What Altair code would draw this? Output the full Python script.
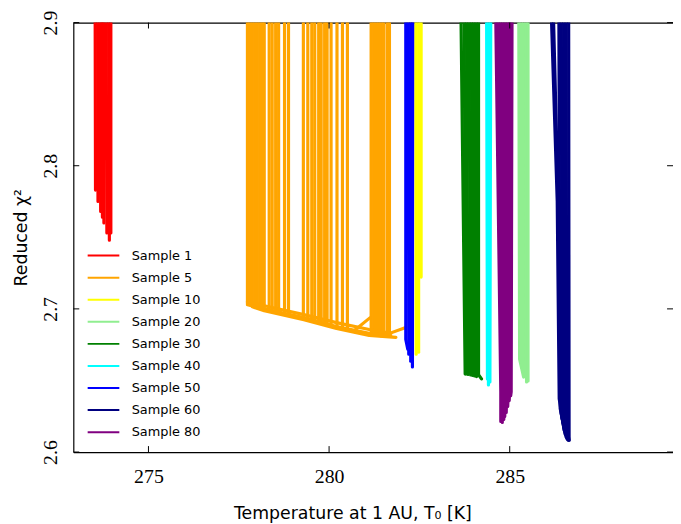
import altair as alt
import pandas as pd

# ---------------- data ----------------
SAMPLES = ["Sample 1", "Sample 5", "Sample 10", "Sample 20", "Sample 30",
           "Sample 40", "Sample 50", "Sample 60", "Sample 80"]
COLORS = ["#ff0000", "#ffa500", "#ffff00", "#90ee90", "#008000",
          "#00ffff", "#0000ff", "#000080", "#800080"]
X_TICKS = [275, 280, 285]
Y_TICKS = [2.6, 2.7, 2.8, 2.9]
X_RANGE = [272.92, 289.52]
Y_RANGE = [2.6, 2.9]
TOP = 2.95  # traces start above the visible range

# each trace: list of (T0 [K], reduced chi2) points
S1_TRACES = [
    [(273.521, TOP), (273.534, 2.783)],
    [(273.589, TOP), (273.603, 2.775)],
    [(273.658, TOP), (273.677, 2.768)],
    [(273.712, TOP), (273.725, 2.764)],
    [(273.753, TOP), (273.767, 2.760)],
    [(273.822, TOP), (273.849, 2.753)],
    [(273.890, TOP), (273.918, 2.748)],
    [(273.959, TOP), (273.959, 2.753)],
]
S5_VERTICAL = [
    (277.740, 2.7036), (277.808, 2.7029), (277.877, 2.7022), (277.945, 2.7018),
    (278.014, 2.7015), (278.082, 2.7011), (278.151, 2.7008), (278.205, 2.7004),
    (278.342, 2.6994), (278.425, 2.6987), (278.521, 2.6980), (278.603, 2.6977),
    (278.767, 2.6966), (278.877, 2.6960), (279.288, 2.6939), (279.411, 2.6929),
    (279.521, 2.6922), (279.603, 2.6915), (279.712, 2.6908), (279.781, 2.6904),
    (279.877, 2.6898), (279.945, 2.6891), (280.055, 2.6884), (280.219, 2.6877),
    (280.370, 2.6866), (280.507, 2.6856), (281.164, 2.6822), (281.233, 2.6818),
    (281.301, 2.6815), (281.370, 2.6815), (281.438, 2.6811), (281.507, 2.6808),
    (281.603, 2.6808), (281.671, 2.6808),
]
S5_TRACES = [[(t, TOP), (t, c)] for t, c in S5_VERTICAL] + [
    [(277.740, 2.7049), (278.205, 2.7022), (279.301, 2.6960), (280.205, 2.6904),
     (281.110, 2.6856), (281.712, 2.6829)],
    [(277.740, 2.7029), (278.205, 2.7001), (279.301, 2.6939), (280.205, 2.6877),
     (281.110, 2.6829), (281.712, 2.6808)],
    [(277.877, 2.7015), (278.205, 2.6987), (279.301, 2.6925), (280.205, 2.6863),
     (281.110, 2.6815), (281.849, 2.6801)],
    [(280.699, 2.6849), (281.137, 2.6939)],
    [(281.521, 2.6815), (282.123, 2.6870)],
]
S10_TRACES = [
    [(282.397, TOP), (282.411, 2.6683)],
    [(282.479, TOP), (282.479, 2.6697)],
    [(282.548, TOP), (282.548, 2.7222)],
]
S20_TRACES = [
    [(285.247, TOP), (285.274, 2.6649), (285.384, 2.6524)],
    [(285.315, TOP), (285.329, 2.6649), (285.411, 2.6531)],
    [(285.384, TOP), (285.384, 2.6566)],
    [(285.452, TOP), (285.466, 2.6490)],
    [(285.507, TOP), (285.507, 2.6497)],
]
S30_TRACES = [
    [(283.630, TOP), (283.767, 2.6545)],
    [(283.726, TOP), (283.795, 2.6545)],
    [(283.795, TOP), (283.849, 2.6542)],
    [(283.863, TOP), (283.918, 2.6538)],
    [(283.932, TOP), (283.973, 2.6535)],
    [(284.000, TOP), (284.027, 2.6531)],
    [(284.068, TOP), (284.082, 2.6527)],
    [(284.137, TOP), (284.137, 2.6540), (284.219, 2.6511)],
]
S40_TRACES = [
    [(284.356, TOP), (284.384, 2.6511)],
    [(284.425, TOP), (284.411, 2.6469)],
    [(284.479, TOP), (284.452, 2.6490)],
]
S50_TRACES = [
    [(282.123, TOP), (282.123, 2.6787), (282.178, 2.6718)],
    [(282.192, TOP), (282.205, 2.6683)],
    [(282.260, TOP), (282.260, 2.6635)],
    [(282.315, TOP), (282.307, 2.6594)],
]
S60_TRACES = [
    [(286.096, TOP), (286.315, 2.7754), (286.370, 2.6372), (286.507, 2.6152)],
    [(286.164, TOP), (286.342, 2.7754), (286.397, 2.6304), (286.534, 2.6124)],
    [(286.356, TOP), (286.384, 2.7063), (286.425, 2.6269), (286.562, 2.6103)],
    [(286.425, TOP), (286.452, 2.6235), (286.589, 2.6090)],
    [(286.493, TOP), (286.507, 2.6200), (286.616, 2.6083)],
    [(286.562, TOP), (286.575, 2.6166), (286.644, 2.6083)],
    [(286.630, TOP), (286.644, 2.6083)],
]
S80_TRACES = [
    [(284.589, TOP), (284.753, 2.6421), (284.753, 2.6214)],
    [(284.658, TOP), (284.795, 2.6421), (284.795, 2.6207)],
    [(284.726, TOP), (284.836, 2.6421), (284.836, 2.6228)],
    [(284.795, TOP), (284.877, 2.6421), (284.863, 2.6248)],
    [(284.863, TOP), (284.918, 2.6421), (284.904, 2.6276)],
    [(284.932, TOP), (284.959, 2.6421), (284.945, 2.6318)],
    [(285.000, TOP), (285.000, 2.6421), (284.986, 2.6359)],
    [(285.068, TOP), (285.041, 2.6421), (285.027, 2.6393)],
]
ALL_TRACES = [S1_TRACES, S5_TRACES, S10_TRACES, S20_TRACES, S30_TRACES,
              S40_TRACES, S50_TRACES, S60_TRACES, S80_TRACES]

rows = []
for name, traces in zip(SAMPLES, ALL_TRACES):
    for k, tr in enumerate(traces):
        for j, (t, c) in enumerate(tr):
            rows.append({"sample": name, "trace": f"{name}-{k}", "step": j,
                         "T": t, "chi": c})
df = pd.DataFrame(rows)
xt = pd.DataFrame({"v": X_TICKS})
yt = pd.DataFrame({"v": Y_TICKS})

# ---------------- chart ----------------
W, H = 606, 434
TL = 6
xs = alt.Scale(domain=X_RANGE, nice=False, zero=False)
ys = alt.Scale(domain=Y_RANGE, nice=False, zero=False)

lines = alt.Chart(df).mark_line(
    clip=True, strokeWidth=3.2, strokeJoin="round", strokeCap="round"
).encode(
    x=alt.X("T:Q", scale=xs, axis=alt.Axis(
        values=X_TICKS, format="d", ticks=False, grid=False,
        labelFont="Liberation Serif", labelFontSize=20, labelColor="black",
        labelPadding=15, domainColor="black", domainWidth=1.2,
        title="Temperature at 1 AU, T\u2080 [K]", titleFont="DejaVu Sans",
        titleFontSize=17.5, titleFontWeight="normal", titleColor="black",
        titlePadding=18, titleX=282, titleAlign="center")),
    y=alt.Y("chi:Q", scale=ys, axis=alt.Axis(
        values=Y_TICKS, format=".1f", ticks=False, grid=False,
        labelFont="Liberation Serif", labelFontSize=20, labelColor="black",
        labelAngle=270, labelAlign="center", labelBaseline="alphabetic",
        labelPadding=17, domainColor="black", domainWidth=1.2,
        title="Reduced \u03c7\u00b2", titleFont="DejaVu Sans",
        titleFontSize=17.5, titleFontWeight="normal", titleColor="black",
        titlePadding=10)),
    color=alt.Color("sample:N", scale=alt.Scale(domain=SAMPLES, range=COLORS),
                    legend=alt.Legend(
                        title=None, orient="none", legendX=24, legendY=229,
                        symbolType="M-3.2,0H3.2", symbolSize=100,
                        symbolStrokeWidth=2, labelFont="DejaVu Sans",
                        labelFontSize=13, labelColor="black", labelOffset=22,
                        rowPadding=8.3, padding=0)),
    detail="trace:N",
    order="step:Q",
)

bottom_ticks = alt.Chart(xt).mark_rule(color="black", strokeWidth=1).encode(
    x=alt.X("v:Q", scale=xs, axis=None), y=alt.value(H), y2=alt.value(H - TL))
top_ticks = alt.Chart(xt).mark_rule(color="black", strokeWidth=1).encode(
    x=alt.X("v:Q", scale=xs, axis=alt.Axis(
        orient="top", labels=False, ticks=False, title=None, grid=False,
        domainColor="black", domainWidth=1.2)),
    y=alt.value(0), y2=alt.value(TL))
left_ticks = alt.Chart(yt).mark_rule(color="black", strokeWidth=1).encode(
    y=alt.Y("v:Q", scale=ys, axis=None), x=alt.value(0), x2=alt.value(TL))
right_ticks = alt.Chart(yt).mark_rule(color="black", strokeWidth=1).encode(
    y=alt.Y("v:Q", scale=ys, axis=None), x=alt.value(W), x2=alt.value(W - TL))

chart = alt.layer(lines, bottom_ticks, top_ticks, left_ticks, right_ticks).resolve_axis(
    x="independent", y="independent"
).properties(
    width=W, height=H,
    autosize=alt.AutoSizeParams(type="none"),
    padding={"left": 66, "top": 12, "right": 0, "bottom": 70},
).configure_view(stroke=None)

chart.save("out.html", embed_options={"renderer": "svg", "actions": False})
